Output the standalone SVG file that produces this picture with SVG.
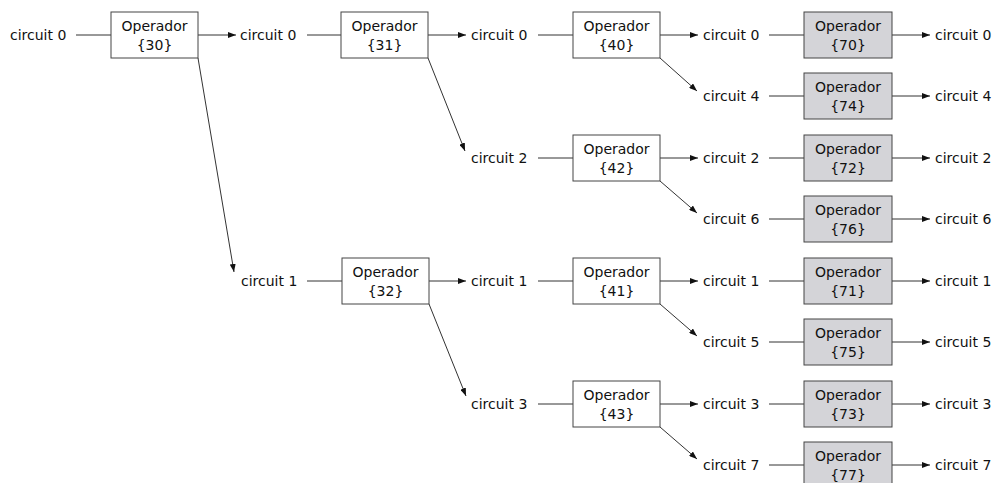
<svg xmlns="http://www.w3.org/2000/svg" width="996" height="483" viewBox="0 0 996 483">
<defs>
<marker id="ah" markerWidth="9" markerHeight="6" refX="8" refY="3" orient="auto" markerUnits="userSpaceOnUse"><path d="M0,0 L8,3 L0,6 z" fill="#111"/></marker>
<style>
.t{font-family:"DejaVu Sans",Verdana,sans-serif;font-size:14px;fill:#111}
.c{text-anchor:middle}
.b{fill:#fff;stroke:#444;stroke-width:1}
.g{fill:#d4d4d8;stroke:#444;stroke-width:1}
.l{stroke:#333;stroke-width:1;fill:none}
.a{stroke:#333;stroke-width:1;fill:none;marker-end:url(#ah)}
</style>
</defs>
<rect width="996" height="483" fill="#fff"/>
<g id="connectors">
<line class="l" x1="76" y1="35" x2="111" y2="35"/>
<line class="a" x1="198" y1="35" x2="236" y2="35"/>
<line class="l" x1="307" y1="35" x2="341" y2="35"/>
<line class="a" x1="428" y1="35" x2="466" y2="35"/>
<line class="l" x1="538" y1="35" x2="573" y2="35"/>
<line class="a" x1="660" y1="35" x2="698" y2="35"/>
<line class="l" x1="769" y1="35" x2="804" y2="35"/>
<line class="a" x1="892" y1="35" x2="930" y2="35"/>
<line class="l" x1="769" y1="96" x2="804" y2="96"/>
<line class="a" x1="892" y1="96" x2="930" y2="96"/>
<line class="l" x1="538" y1="158" x2="573" y2="158"/>
<line class="a" x1="660" y1="158" x2="698" y2="158"/>
<line class="l" x1="769" y1="158" x2="804" y2="158"/>
<line class="a" x1="892" y1="158" x2="930" y2="158"/>
<line class="l" x1="769" y1="219" x2="804" y2="219"/>
<line class="a" x1="892" y1="219" x2="930" y2="219"/>
<line class="l" x1="307" y1="281" x2="342" y2="281"/>
<line class="a" x1="429" y1="281" x2="466" y2="281"/>
<line class="l" x1="538" y1="281" x2="573" y2="281"/>
<line class="a" x1="660" y1="281" x2="698" y2="281"/>
<line class="l" x1="769" y1="281" x2="804" y2="281"/>
<line class="a" x1="892" y1="281" x2="930" y2="281"/>
<line class="l" x1="769" y1="342" x2="804" y2="342"/>
<line class="a" x1="892" y1="342" x2="930" y2="342"/>
<line class="l" x1="538" y1="404" x2="573" y2="404"/>
<line class="a" x1="660" y1="404" x2="698" y2="404"/>
<line class="l" x1="769" y1="404" x2="804" y2="404"/>
<line class="a" x1="892" y1="404" x2="930" y2="404"/>
<line class="l" x1="769" y1="465" x2="804" y2="465"/>
<line class="a" x1="892" y1="465" x2="930" y2="465"/>
<line class="a" x1="198" y1="58" x2="234" y2="272"/>
<line class="a" x1="428" y1="58" x2="465" y2="151"/>
<line class="a" x1="660" y1="58" x2="697" y2="91"/>
<line class="a" x1="429" y1="304" x2="466" y2="396"/>
<line class="a" x1="660" y1="181" x2="697" y2="213"/>
<line class="a" x1="660" y1="304" x2="697" y2="336"/>
<line class="a" x1="660" y1="427" x2="697" y2="459"/>
</g>
<g id="labels">
<text class="t" x="10" y="40">circuit 0</text>
<text class="t" x="240" y="40">circuit 0</text>
<text class="t" x="471" y="40">circuit 0</text>
<text class="t" x="703" y="40">circuit 0</text>
<text class="t" x="935" y="40">circuit 0</text>
<text class="t" x="703" y="101">circuit 4</text>
<text class="t" x="935" y="101">circuit 4</text>
<text class="t" x="471" y="163">circuit 2</text>
<text class="t" x="703" y="163">circuit 2</text>
<text class="t" x="935" y="163">circuit 2</text>
<text class="t" x="703" y="224">circuit 6</text>
<text class="t" x="935" y="224">circuit 6</text>
<text class="t" x="241" y="286">circuit 1</text>
<text class="t" x="471" y="286">circuit 1</text>
<text class="t" x="703" y="286">circuit 1</text>
<text class="t" x="935" y="286">circuit 1</text>
<text class="t" x="703" y="347">circuit 5</text>
<text class="t" x="935" y="347">circuit 5</text>
<text class="t" x="471" y="409">circuit 3</text>
<text class="t" x="703" y="409">circuit 3</text>
<text class="t" x="935" y="409">circuit 3</text>
<text class="t" x="703" y="470">circuit 7</text>
<text class="t" x="935" y="470">circuit 7</text>
</g>
<g id="op30"><rect class="b" x="111" y="12" width="87" height="46"/><text class="t c" x="154.5" y="31">Operador</text><text class="t c" x="154.5" y="50">{30}</text></g>
<g id="op31"><rect class="b" x="341" y="12" width="87" height="46"/><text class="t c" x="384.5" y="31">Operador</text><text class="t c" x="384.5" y="50">{31}</text></g>
<g id="op32"><rect class="b" x="342" y="258" width="87" height="46"/><text class="t c" x="385.5" y="277">Operador</text><text class="t c" x="385.5" y="296">{32}</text></g>
<g id="op40"><rect class="b" x="573" y="12" width="87" height="46"/><text class="t c" x="616.5" y="31">Operador</text><text class="t c" x="616.5" y="50">{40}</text></g>
<g id="op42"><rect class="b" x="573" y="135" width="87" height="46"/><text class="t c" x="616.5" y="154">Operador</text><text class="t c" x="616.5" y="173">{42}</text></g>
<g id="op41"><rect class="b" x="573" y="258" width="87" height="46"/><text class="t c" x="616.5" y="277">Operador</text><text class="t c" x="616.5" y="296">{41}</text></g>
<g id="op43"><rect class="b" x="573" y="381" width="87" height="46"/><text class="t c" x="616.5" y="400">Operador</text><text class="t c" x="616.5" y="419">{43}</text></g>
<g id="op70"><rect class="g" x="804" y="12" width="88" height="46"/><text class="t c" x="848" y="31">Operador</text><text class="t c" x="848" y="50">{70}</text></g>
<g id="op74"><rect class="g" x="804" y="73" width="88" height="46"/><text class="t c" x="848" y="92">Operador</text><text class="t c" x="848" y="111">{74}</text></g>
<g id="op72"><rect class="g" x="804" y="135" width="88" height="46"/><text class="t c" x="848" y="154">Operador</text><text class="t c" x="848" y="173">{72}</text></g>
<g id="op76"><rect class="g" x="804" y="196" width="88" height="46"/><text class="t c" x="848" y="215">Operador</text><text class="t c" x="848" y="234">{76}</text></g>
<g id="op71"><rect class="g" x="804" y="258" width="88" height="46"/><text class="t c" x="848" y="277">Operador</text><text class="t c" x="848" y="296">{71}</text></g>
<g id="op75"><rect class="g" x="804" y="319" width="88" height="46"/><text class="t c" x="848" y="338">Operador</text><text class="t c" x="848" y="357">{75}</text></g>
<g id="op73"><rect class="g" x="804" y="381" width="88" height="46"/><text class="t c" x="848" y="400">Operador</text><text class="t c" x="848" y="419">{73}</text></g>
<g id="op77"><rect class="g" x="804" y="442" width="88" height="46"/><text class="t c" x="848" y="461">Operador</text><text class="t c" x="848" y="480">{77}</text></g>
</svg>
